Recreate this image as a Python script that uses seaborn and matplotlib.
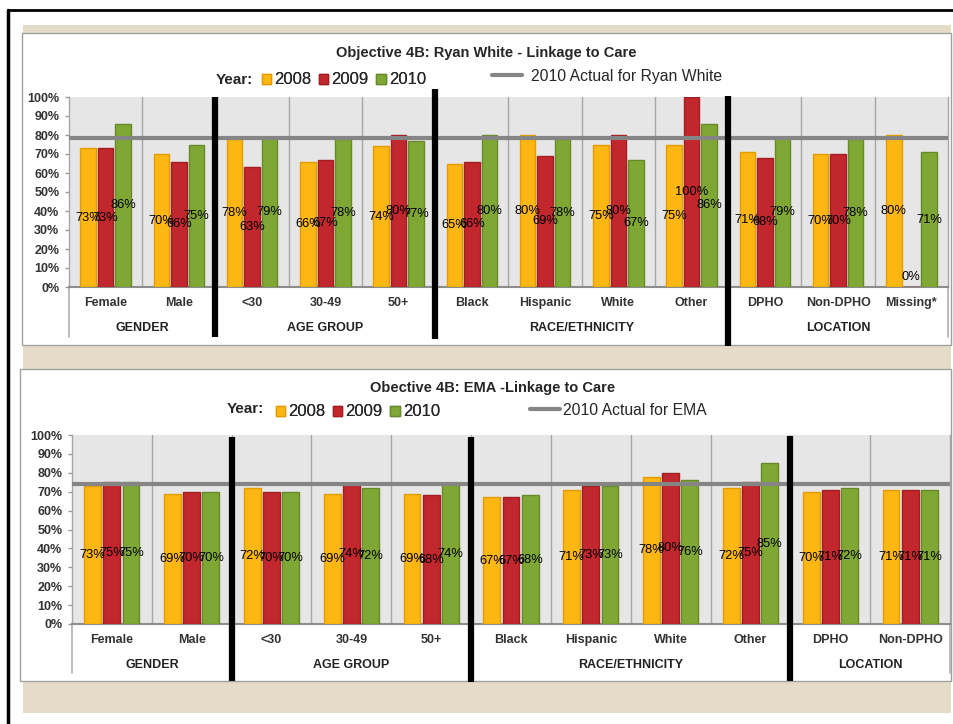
import matplotlib
matplotlib.use("Agg")
import matplotlib.pyplot as plt
import matplotlib.transforms as mtransforms
from matplotlib.patches import Rectangle, Patch
from matplotlib.lines import Line2D
import pandas as pd
import seaborn as sns

# ---------------- data ----------------
YEARS = ["2008", "2009", "2010"]

RW_CATEGORIES = ["Female", "Male", "<30", "30-49", "50+", "Black", "Hispanic",
                 "White", "Other", "DPHO", "Non-DPHO", "Missing*"]
RW_GROUPS = ["GENDER", "GENDER", "AGE GROUP", "AGE GROUP", "AGE GROUP",
             "RACE/ETHNICITY", "RACE/ETHNICITY", "RACE/ETHNICITY", "RACE/ETHNICITY",
             "LOCATION", "LOCATION", "LOCATION"]
RW_2008 = [73, 70, 78, 66, 74, 65, 80, 75, 75, 71, 70, 80]
RW_2009 = [73, 66, 63, 67, 80, 66, 69, 80, 100, 68, 70, 0]
RW_2010 = [86, 75, 79, 78, 77, 80, 78, 67, 86, 79, 78, 71]
RW_ACTUAL = 78.5

EMA_CATEGORIES = ["Female", "Male", "<30", "30-49", "50+", "Black", "Hispanic",
                  "White", "Other", "DPHO", "Non-DPHO"]
EMA_GROUPS = ["GENDER", "GENDER", "AGE GROUP", "AGE GROUP", "AGE GROUP",
              "RACE/ETHNICITY", "RACE/ETHNICITY", "RACE/ETHNICITY", "RACE/ETHNICITY",
              "LOCATION", "LOCATION"]
EMA_2008 = [73, 69, 72, 69, 69, 67, 71, 78, 72, 70, 71]
EMA_2009 = [75, 70, 70, 74, 68, 67, 73, 80, 75, 71, 71]
EMA_2010 = [75, 70, 70, 72, 74, 68, 73, 76, 85, 72, 71]
EMA_ACTUAL = 74

COLORS = {"2008": "#FDB713", "2009": "#C1272D", "2010": "#7FA733"}
EDGES = {"2008": "#E39B00", "2009": "#A11E22", "2010": "#68892A"}
BEIGE = "#E4DCC7"
PLOT_BG = "#E6E6E6"
GRID = "#A6A6A6"
REF_GRAY = "#858585"

W, H = 954, 724

sns.set_theme(style="white")
plt.rcParams["font.family"] = ["Liberation Sans", "DejaVu Sans"]


def fx(px):
    return px / W


def fy(py):
    return 1 - py / H


def draw_panel(ax, categories, groups, series, actual, spine_ext, black_lines):
    df = pd.DataFrame({
        "category": categories * len(YEARS),
        "year": [y for y in YEARS for _ in categories],
        "value": [v for s in series for v in s],
    })
    sns.barplot(data=df, x="category", y="value", hue="year", order=categories,
                hue_order=YEARS, palette=COLORS, width=0.72, gap=0.12,
                saturation=1, errorbar=None, legend=False, ax=ax, zorder=3)

    for cont, yr in zip(ax.containers, YEARS):
        for bar in cont:
            bar.set_edgecolor(EDGES[yr])
            bar.set_linewidth(1)
            h = bar.get_height()
            cx = bar.get_x() + bar.get_width() / 2
            if h == 0:
                ax.text(cx, 2, "0%", ha="center", va="bottom", fontsize=9.3,
                        color="black", zorder=6)
            else:
                ax.text(cx, h / 2, f"{h:.0f}%", ha="center", va="center",
                        fontsize=9.3, color="black", zorder=6)

    n = len(categories)
    ax.set_facecolor(PLOT_BG)
    ax.set_xlim(-0.5, n - 0.5)
    ax.set_ylim(0, 100)
    ax.set_yticks(range(0, 101, 10))
    ax.set_yticklabels([f"{t}%" for t in range(0, 101, 10)], fontsize=9,
                       color="#333333", fontweight="bold")
    ax.set_xticks(range(n))
    ax.set_xticklabels(categories, fontsize=9, color="#333333", fontweight="bold")
    ax.tick_params(axis="x", length=0, pad=7)
    ax.tick_params(axis="y", length=3, width=1, color="#999999", left=True, pad=4)
    ax.set_xlabel("")
    ax.set_ylabel("")

    for k in range(n - 1):
        ax.axvline(k + 0.5, color=GRID, lw=1, zorder=1)
    ax.axhline(actual, color=REF_GRAY, lw=3, zorder=4)

    ax.spines["top"].set_visible(False)
    for side in ["left", "right"]:
        ax.spines[side].set_color(GRID)
        ax.spines[side].set_linewidth(1)
    ax.spines["bottom"].set_color("#8C8C8C")
    ax.spines["bottom"].set_linewidth(1.5)

    trans = mtransforms.blended_transform_factory(ax.transData, ax.transAxes)
    # extended category axis borders
    ax.plot([0, 0], [0, spine_ext], transform=ax.transAxes, color="#B0B0B0",
            lw=1.2, clip_on=False)
    ax.plot([1, 1], [0, spine_ext], transform=ax.transAxes, color="#B0B0B0",
            lw=1.2, clip_on=False)

    # group labels
    start = 0
    for i in range(1, n + 1):
        if i == n or groups[i] != groups[start]:
            ax.text((start + i - 1) / 2, -0.215, groups[start], transform=trans,
                    ha="center", va="center", fontsize=9, fontweight="bold",
                    color="#222222")
            start = i

    # thick black separators between groups
    for xb, y0, y1 in black_lines:
        ax.plot([xb, xb], [y0, y1], transform=trans, color="black", lw=4.5,
                clip_on=False, zorder=10, solid_capstyle="butt")


def year_legend(fig, x, y):
    handles = [Patch(facecolor=COLORS[yr], edgecolor=EDGES[yr]) for yr in YEARS]
    leg = fig.legend(handles, YEARS, loc="center left", bbox_to_anchor=(x, y),
                     ncol=3, frameon=False, fontsize=12, handlelength=0.55,
                     handleheight=0.55, handletextpad=0.2, columnspacing=0.45,
                     borderaxespad=0, borderpad=0)
    fig.add_artist(leg)


fig = plt.figure(figsize=(W / 100, H / 100), dpi=100)
fig.patch.set_facecolor("white")

# background panels
fig.add_artist(Rectangle((fx(23), fy(713)), fx(951) - fx(23), fy(25) - fy(713),
                         transform=fig.transFigure, facecolor=BEIGE,
                         edgecolor="none", zorder=-10))
fig.add_artist(Rectangle((fx(22), fy(345)), fx(950.5) - fx(22), fy(33) - fy(345),
                         transform=fig.transFigure, facecolor="white",
                         edgecolor="#A0A0A0", lw=1, zorder=-9))
fig.add_artist(Rectangle((fx(20), fy(681)), fx(951.5) - fx(20), fy(369) - fy(681),
                         transform=fig.transFigure, facecolor="white",
                         edgecolor="#A0A0A0", lw=1, zorder=-9))
# outer frame
fig.add_artist(Line2D([fx(8), 1], [fy(10), fy(10)], transform=fig.transFigure,
                      color="black", lw=2))
fig.add_artist(Line2D([fx(8), fx(8)], [0, fy(10)], transform=fig.transFigure,
                      color="black", lw=2.5))

# ---------------- top chart: Ryan White ----------------
ax1 = fig.add_axes([fx(69), fy(287), fx(948) - fx(69), fy(97) - fy(287)])
draw_panel(ax1, RW_CATEGORIES, RW_GROUPS, [RW_2008, RW_2009, RW_2010], RW_ACTUAL,
           -0.263,
           [(1.5, 1.0, -0.263), (4.5, 1.042, -0.274), (8.5, 1.005, -0.31)])

fig.text(fx(486), fy(53), "Objective 4B: Ryan White - Linkage to Care",
         ha="center", va="center", fontsize=10.5, fontweight="bold")
fig.text(fx(216), fy(80), "Year:", ha="left", va="center", fontsize=11,
         fontweight="bold")
year_legend(fig, fx(262), fy(80))
fig.legend([Line2D([], [], color=REF_GRAY, lw=3)], ["2010 Actual for Ryan White"],
           loc="center left", bbox_to_anchor=(fx(492), fy(76)), frameon=False,
           fontsize=11.3, handlelength=1.9, handletextpad=0.6, borderaxespad=0,
           borderpad=0)

# ---------------- bottom chart: EMA ----------------
ax2 = fig.add_axes([fx(72), fy(624), fx(950) - fx(72), fy(435) - fy(624)])
draw_panel(ax2, EMA_CATEGORIES, EMA_GROUPS, [EMA_2008, EMA_2009, EMA_2010],
           EMA_ACTUAL, -0.259,
           [(1.5, 0.99, -0.302), (4.5, 0.99, -0.307), (8.5, 0.995, -0.302)])

fig.text(fx(493), fy(388), "Obective 4B: EMA -Linkage to Care",
         ha="center", va="center", fontsize=10.5, fontweight="bold")
fig.text(fx(227), fy(409), "Year:", ha="left", va="center", fontsize=11,
         fontweight="bold")
year_legend(fig, fx(276), fy(412))
fig.legend([Line2D([], [], color=REF_GRAY, lw=3)], ["2010 Actual for EMA"],
           loc="center left", bbox_to_anchor=(fx(530), fy(410)), frameon=False,
           fontsize=11.3, handlelength=1.9, handletextpad=0.2, borderaxespad=0,
           borderpad=0)

fig.savefig("out.png", dpi=100)
